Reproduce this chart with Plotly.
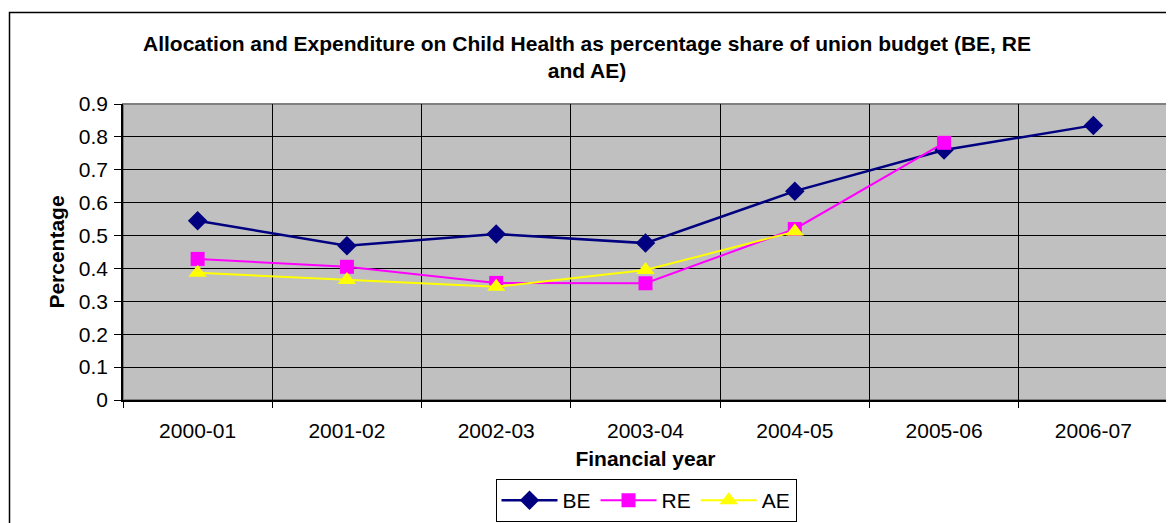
import plotly.graph_objects as go

years = ["2000-01", "2001-02", "2002-03", "2003-04", "2004-05", "2005-06", "2006-07"]
be = [0.545, 0.469, 0.505, 0.477, 0.635, 0.760, 0.835]
re = [0.429, 0.405, 0.356, 0.355, 0.520, 0.782, None]
ae = [0.387, 0.365, 0.344, 0.395, 0.512, None, None]

# the page body adds an 8px margin, so the figure is shrunk and shifted by that much
OFF = 8
W, H = 1174 - OFF, 523 - OFF
L, R, T, B = 123 - OFF, 6, 104 - OFF, 123
pw, ph = W - L - R, H - T - B


def px(x):
    return (x - OFF - L) / pw


def py(y):
    return (H - B - (y - OFF)) / ph


fig = go.Figure()
fig.add_trace(go.Scatter(x=years, y=be, name="BE", mode="lines+markers",
                         line=dict(color="#000080", width=2.5),
                         marker=dict(symbol="diamond", size=15, color="#000080")))
fig.add_trace(go.Scatter(x=years, y=re, name="RE", mode="lines+markers",
                         line=dict(color="#FF00FF", width=2),
                         marker=dict(symbol="square", size=14, color="#FF00FF")))
fig.add_trace(go.Scatter(x=years, y=ae, name="AE", mode="lines+markers",
                         line=dict(color="#FFFF00", width=2),
                         marker=dict(symbol="triangle-up", size=16, color="#FFFF00")))

fnt = "Liberation Sans, Arial, sans-serif"
fig.update_layout(
    width=W, height=H,
    margin=dict(l=L, r=R, t=T, b=B, autoexpand=False),
    paper_bgcolor="white",
    plot_bgcolor="#C0C0C0",
    font=dict(family=fnt, size=21, color="black"),
    title=dict(text="<b>Allocation and Expenditure on Child Health as percentage share of union budget (BE, RE<br>and AE)</b>",
               x=(587 - OFF) / W, xanchor="center", y=1 - 43 / H, yanchor="top",
               font=dict(size=21)),
    showlegend=True,
    legend=dict(orientation="h", x=px(646), xanchor="center", y=py(479), yanchor="top",
                bordercolor="black", borderwidth=1, bgcolor="white",
                font=dict(size=21), itemwidth=56, tracegroupgap=0),
    shapes=[
        dict(type="rect", xref="paper", yref="paper", x0=0, x1=1, y0=0, y1=1,
             line=dict(color="#808080", width=2), layer="below"),
        dict(type="rect", xref="paper", yref="paper", x0=px(9.5), x1=px(1185),
             y0=py(535), y1=py(12.5), line=dict(color="black", width=1.5)),
    ],
)
fig.update_xaxes(
    type="category", range=[-0.5, 6.5], tickson="boundaries", automargin=False,
    showgrid=True, gridcolor="black", gridwidth=1,
    showline=True, linecolor="black", linewidth=1.5,
    ticks="outside", ticklen=6, tickcolor="black", ticklabelstandoff=11,
    tickfont=dict(size=21),
    title=dict(text="<b>Financial year</b>", font=dict(size=21), standoff=10),
)
fig.update_yaxes(
    range=[0, 0.9], dtick=0.1, tick0=0, automargin=False,
    showgrid=True, gridcolor="black", gridwidth=1,
    showline=True, linecolor="black", linewidth=1.5, zeroline=False,
    ticks="outside", ticklen=7, tickcolor="black", ticklabelstandoff=2,
    tickfont=dict(size=21),
    title=dict(text="<b>Percentage</b>", font=dict(size=21), standoff=8),
)

fig.write_html("out.html")
